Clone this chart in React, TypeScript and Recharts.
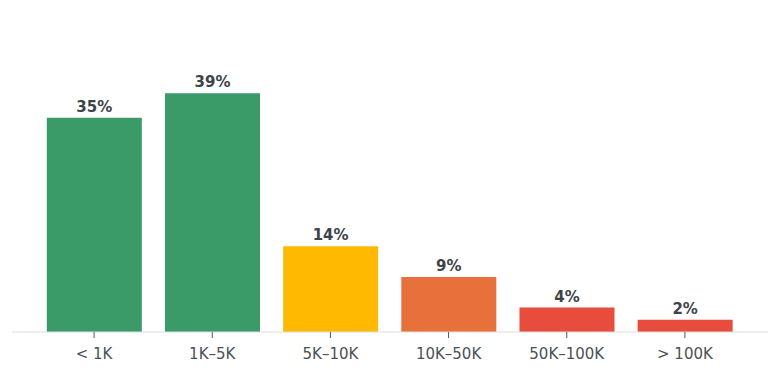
import { BarChart, Bar, XAxis, YAxis, Cell, LabelList } from 'recharts'

const categories = ['< 1K', '1K–5K', '5K–10K', '10K–50K', '50K–100K', '> 100K']
const shares = [35, 39, 14, 9, 4, 2]
const barColors = ['#3a9a68', '#3a9a68', '#ffb900', '#e8703a', '#e84c3d', '#e84c3d']

const data = categories.map((name, i) => ({ name, share: shares[i] }))

const font = '"DejaVu Sans", sans-serif'

export default function App() {
  return (
    <div style={{ position: 'absolute', left: 0, top: 0, width: 780, height: 375, background: '#fff' }}>
      <BarChart
        width={780}
        height={375}
        data={data}
        margin={{ top: 26, right: 12, left: 12, bottom: 13 }}
        barCategoryGap="10%"
      >
        <XAxis
          dataKey="name"
          height={30}
          padding={{ left: 23, right: 24 }}
          axisLine={{ stroke: '#dddddd', strokeWidth: 1 }}
          tickLine={{ stroke: '#555555' }}
          tickSize={6}
          tickMargin={10}
          tick={{ fontSize: 15, fill: '#4a5156', fontFamily: font }}
          interval={0}
        />
        <YAxis hide domain={[0, 50]} />
        <Bar dataKey="share" isAnimationActive={false}>
          {data.map((d, i) => (
            <Cell key={d.name} fill={barColors[i]} />
          ))}
          <LabelList
            dataKey="share"
            position="top"
            offset={6}
            formatter={(v: any) => `${v}%`}
            style={{ fontSize: 15, fontWeight: 700, fill: '#3d4448', fontFamily: font }}
          />
        </Bar>
      </BarChart>
    </div>
  )
}
